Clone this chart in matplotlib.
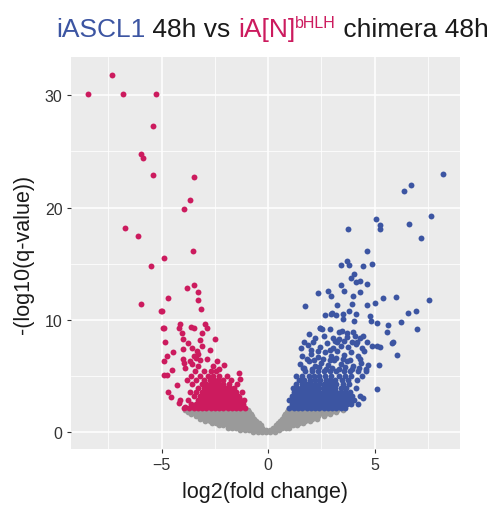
import matplotlib
matplotlib.use('Agg')
import matplotlib.pyplot as plt
import numpy as np

plt.rcParams['font.family'] = ['Liberation Sans', 'DejaVu Sans']

# --- data ---
# sparse down-regulated points (red)
red_x = [-8.44, -7.32, -6.79, -5.24, -5.38, -5.98, -5.88, -5.38, -3.49, -3.69, -3.93,
         -6.71, -6.09, -3.51, -4.88, -5.48, -3.82, -3.46, -3.27, -4.71, -3.27, -5.98,
         -3.15, -4.98, -5.05, -4.88, -4.95, -4.13, -4.16, -3.61, -3.46, -2.96, -2.85,
         -3.11, -4.05, -3.98, -3.19, -2.49, -4.82, -3.11, -3.98, -3.58, -4.45, -3.35,
         -3.27, -4.73, -3.50, -3.40, -2.85, -3.98, -3.94, -3.66, -3.55, -4.87, -2.41,
         -3.90, -3.30, -2.05, -2.29, -4.91, -4.73, -4.71, -4.55, -4.13, -4.20, -3.90,
         -1.31, -1.35, -1.39, -1.16, -4.3, -3.75, -2.6, -4.5, -3.2, -2.75]
red_y = [30.1, 31.8, 30.1, 30.1, 27.3, 24.8, 24.4, 22.9, 22.7, 20.7, 19.9,
         18.2, 17.5, 16.1, 15.5, 14.8, 12.8, 13.1, 12.5, 11.9, 11.75, 11.4,
         11.0, 10.8, 10.8, 9.3, 9.3, 9.6, 9.3, 9.4, 9.3, 9.6, 9.3,
         8.8, 8.8, 8.3, 8.2, 8.3, 8.0, 7.7, 7.4, 7.45, 7.1, 7.2,
         6.95, 6.8, 6.8, 6.6, 6.55, 6.55, 6.2, 6.3, 6.1, 6.35, 6.35,
         5.75, 5.9, 6.0, 5.6, 5.1, 5.1, 3.6, 3.1, 2.9, 2.6, 2.2,
         4.7, 5.25, 3.1, 2.35, 4.2, 7.9, 5.9, 5.5, 6.4, 7.3]

# dense down-regulated core, one list of log2FC per q-value row
red_row_y = [2.15, 2.5, 2.85, 3.2, 3.55, 3.9, 4.25, 4.6, 5.0, 5.4]
red_row_x = [
    [-3.95, -3.7, -3.5, -3.3, -3.1, -2.9, -2.7, -2.5, -2.3, -2.1, -1.9, -1.7, -1.5, -1.3, -1.1],
    [-3.6, -3.4, -3.2, -3.0, -2.8, -2.6, -2.4, -2.2, -2.0, -1.8, -1.6, -1.4, -1.2],
    [-3.75, -3.3, -3.1, -2.9, -2.7, -2.5, -2.3, -2.1, -1.9, -1.7, -1.5, -1.3, -1.15],
    [-3.5, -3.2, -3.0, -2.8, -2.6, -2.4, -2.2, -2.0, -1.8, -1.6, -1.4],
    [-3.65, -3.4, -3.1, -2.9, -2.7, -2.5, -2.3, -2.1, -1.9, -1.7, -1.5, -1.25],
    [-3.3, -3.0, -2.8, -2.6, -2.4, -2.2, -2.0, -1.8, -1.6],
    [-3.55, -3.1, -2.9, -2.7, -2.5, -2.3, -2.1, -1.85, -1.45],
    [-3.8, -3.4, -3.0, -2.75, -2.55, -2.35, -2.1, -1.75],
    [-3.6, -3.2, -2.8, -2.6, -2.3, -1.95],
    [-3.45, -3.0, -2.7, -2.45],
]

# sparse up-regulated points (blue)
blue_x = [8.18, 6.70, 6.35, 7.62, 5.07, 5.26, 5.26, 6.60, 3.74, 7.16, 4.66, 3.69,
          3.77, 3.41, 4.46, 4.88, 4.04, 3.88, 4.13, 4.29, 4.66, 3.41, 3.57, 2.33,
          2.80, 2.94, 4.00, 4.29, 5.38, 6.02, 7.55, 5.02, 4.66, 6.54, 6.92, 7.00,
          6.23, 5.60, 5.57, 5.88, 5.80, 6.04, 5.12, 5.10, 5.20, 5.10, 4.45, 1.74,
          2.68, 2.96, 2.41, 2.52, 1.66, 1.63, 1.11, 3.22, 2.99, 3.16, 3.50, 3.50,
          3.79, 3.91, 4.13, 4.04, 4.79, 4.82, 2.44, 2.88, 3.30, 3.46, 3.69, 4.00,
          4.08, 4.32, 4.19, 2.10, 3.04, 3.22, 4.63, 4.87, 5.26,
          1.5, 1.9, 2.2, 2.5, 2.8, 3.1, 3.4, 3.7, 4.0, 4.35, 4.7,
          1.6, 2.0, 2.35, 2.65, 2.95, 3.25, 3.55, 3.9, 4.2, 4.5,
          1.55, 1.85, 2.45, 2.75, 3.05, 3.4, 3.75, 4.1, 4.4,
          2.2, 2.6, 3.3, 3.7, 4.45, 1.9,
          1.7, 2.05, 2.4, 2.7, 3.0, 3.3, 3.6, 3.95, 4.25, 4.6,
          1.8, 2.15, 2.55, 2.9, 3.2, 3.5, 3.85, 4.3,
          2.0, 2.35, 2.9, 3.15, 3.55, 3.95]
blue_y = [23.0, 22.0, 21.5, 19.2, 19.0, 18.4, 18.1, 18.5, 18.1, 17.3, 16.1, 15.2,
          14.9, 14.9, 14.75, 15.0, 14.1, 13.7, 13.4, 13.45, 13.2, 13.1, 12.6, 12.4,
          12.6, 12.1, 12.1, 12.5, 11.9, 12.05, 11.75, 11.5, 11.3, 10.65, 10.8, 9.2,
          9.8, 9.5, 8.9, 8.05, 7.9, 6.86, 9.7, 7.7, 6.0, 3.8, 3.0, 11.25,
          10.4, 10.5, 9.3, 9.2, 8.0, 5.7, 2.35, 11.3, 10.6, 10.4, 10.5, 10.1,
          10.8, 11.4, 10.5, 9.9, 10.35, 9.9, 9.3, 9.2, 8.9, 9.0, 8.8, 8.9,
          8.6, 8.4, 8.0, 8.0, 8.35, 8.0, 8.0, 7.7, 7.55,
          6.1, 6.3, 5.9, 6.2, 6.0, 6.4, 6.1, 6.3, 5.9, 6.2, 6.0,
          6.8, 7.0, 6.7, 7.1, 6.8, 7.2, 6.9, 7.1, 6.8, 7.2,
          7.5, 7.8, 7.6, 7.9, 7.5, 7.7, 7.6, 7.85, 7.5,
          8.4, 8.6, 8.3, 8.5, 8.6, 8.7,
          5.75, 5.6, 5.8, 5.65, 5.75, 5.6, 5.8, 5.65, 5.75, 5.6,
          6.5, 6.45, 6.55, 6.4, 6.6, 6.5, 6.45, 6.55,
          7.3, 7.25, 7.35, 8.1, 8.15, 8.05]

# dense up-regulated core
blue_row_y = [2.15, 2.5, 2.85, 3.2, 3.55, 3.9, 4.25, 4.6, 5.0, 5.4]
blue_row_x = [
    [1.0, 1.2, 1.4, 1.6, 1.8, 2.0, 2.2, 2.4, 2.6, 2.8, 3.0, 3.2, 3.4, 3.6],
    [1.1, 1.3, 1.5, 1.7, 1.9, 2.1, 2.3, 2.5, 2.7, 2.9, 3.1, 3.3, 3.5, 3.7, 3.9, 4.2],
    [1.0, 1.2, 1.4, 1.6, 1.8, 2.0, 2.2, 2.4, 2.6, 2.8, 3.0, 3.2, 3.4, 3.6, 3.8, 4.05],
    [1.1, 1.3, 1.5, 1.7, 1.9, 2.1, 2.3, 2.5, 2.7, 2.9, 3.1, 3.3, 3.5, 3.7, 3.95, 4.3],
    [1.2, 1.4, 1.6, 1.8, 2.0, 2.2, 2.4, 2.6, 2.8, 3.0, 3.2, 3.4, 3.6, 3.85],
    [1.15, 1.35, 1.55, 1.75, 1.95, 2.15, 2.35, 2.55, 2.75, 2.95, 3.15, 3.4, 3.65, 4.1],
    [1.3, 1.6, 1.8, 2.0, 2.2, 2.4, 2.6, 2.8, 3.0, 3.2, 3.5, 3.8],
    [1.45, 1.7, 1.95, 2.2, 2.45, 2.7, 2.9, 3.15, 3.45, 3.75, 4.15],
    [1.3, 1.6, 1.9, 2.15, 2.4, 2.65, 2.95, 3.3, 3.6, 3.9, 4.4],
    [1.75, 2.05, 2.35, 2.6, 2.9, 3.2, 3.55, 3.85, 4.2, 4.6],
]

# not significant (grey), one list per q-value row
grey_row_y = [0.05, 0.2, 0.4, 0.6, 0.8, 1.0, 1.2, 1.4, 1.6, 1.8, 1.95]
grey_row_x = [
    [-0.7, -0.5, -0.3, -0.1, 0.1, 0.3],
    [-1.3, -1.1, -0.9, -0.7, -0.5, -0.3, -0.1, 0.1, 0.3, 0.5],
    [-1.9, -1.7, -1.5, -1.3, -1.1, -0.9, -0.7, -0.5, -0.3, 0.25, 0.45, 0.65, 0.85, 1.0],
    [-2.3, -2.1, -1.9, -1.7, -1.5, -1.3, -1.1, -0.9, -0.7, -0.5, -0.35,
     0.35, 0.55, 0.75, 0.95, 1.15, 1.35],
    [-2.65, -2.45, -2.25, -2.05, -1.85, -1.65, -1.45, -1.25, -1.05, -0.85, -0.65, -0.45,
     0.45, 0.65, 0.85, 1.05, 1.25, 1.45, 1.65],
    [-2.95, -2.75, -2.55, -2.35, -2.15, -1.95, -1.75, -1.55, -1.35, -1.15, -0.95, -0.75, -0.55,
     0.55, 0.75, 0.95, 1.15, 1.35, 1.55, 1.75, 1.95],
    [-3.2, -3.0, -2.8, -2.6, -2.4, -2.2, -2.0, -1.8, -1.6, -1.4, -1.2, -1.0, -0.8, -0.65,
     0.65, 0.85, 1.05, 1.25, 1.45, 1.65, 1.85, 2.05, 2.3],
    [-3.4, -3.15, -2.95, -2.75, -2.55, -2.35, -2.15, -1.95, -1.75, -1.55, -1.35, -1.15, -0.95, -0.75,
     0.75, 0.95, 1.15, 1.35, 1.55, 1.75, 1.95, 2.15, 2.35, 2.6],
    [-3.6, -3.35, -3.1, -2.9, -2.7, -2.5, -2.3, -2.1, -1.9, -1.7, -1.5, -1.3, -1.1, -0.9, -0.8,
     0.8, 1.0, 1.2, 1.4, 1.6, 1.8, 2.0, 2.2, 2.4, 2.65, 2.9],
    [-3.75, -3.5, -3.25, -3.0, -2.8, -2.6, -2.4, -2.2, -2.0, -1.8, -1.6, -1.4, -1.2, -1.0, -0.9,
     0.9, 1.1, 1.3, 1.5, 1.7, 1.9, 2.1, 2.3, 2.5, 2.7, 2.95, 3.2],
    [-3.9, -3.6, -3.3, -3.05, -2.85, -2.65, -2.45, -2.25, -2.05, -1.85, -1.65, -1.45, -1.25, -1.05, -0.95,
     0.95, 1.15, 1.35, 1.55, 1.75, 1.95, 2.15, 2.35, 2.55, 2.75, 3.0, 3.25, 3.5],
]


def rows_to_xy(row_y, row_x):
    xs, ys = [], []
    for y, row in zip(row_y, row_x):
        xs += row
        ys += [y] * len(row)
    return np.array(xs), np.array(ys)


gx, gy = rows_to_xy(grey_row_y, grey_row_x)
rx, ry = rows_to_xy(red_row_y, red_row_x)
bx, by = rows_to_xy(blue_row_y, blue_row_x)
rx = np.concatenate([rx, red_x]); ry = np.concatenate([ry, red_y])
bx = np.concatenate([bx, blue_x]); by = np.concatenate([by, blue_y])

RED = '#CC1B5E'
BLUE = '#3C55A2'
GREY = '#9A9A9A'

fig = plt.figure(figsize=(4.96, 5.06), dpi=100)
ax = fig.add_axes([71/496, 56/506, 389/496, 392/506])
ax.set_facecolor('#EBEBEB')

ax.scatter(gx, gy, s=17, color=GREY, linewidths=0, zorder=2)
ax.scatter(rx, ry, s=18, color=RED, linewidths=0, zorder=3)
ax.scatter(bx, by, s=18, color=BLUE, linewidths=0, zorder=3)

ax.set_xlim(-9.25, 9.0)
ax.set_ylim(-1.5, 33.4)
ax.set_xticks([-5, 0, 5])
ax.set_xticks([-7.5, -2.5, 2.5, 7.5], minor=True)
ax.set_yticks([0, 10, 20, 30])
ax.set_yticks([5, 15, 25], minor=True)
ax.grid(which='major', color='white', lw=1.1)
ax.grid(which='minor', color='white', lw=0.55)
ax.set_axisbelow(True)
for s in ax.spines.values():
    s.set_visible(False)
ax.tick_params(which='major', length=3, width=0.8, color='#333333',
               labelsize=11.5, labelcolor='#333333', pad=3)
ax.tick_params(which='minor', length=0)
ax.set_xlabel('log2(fold change)', fontsize=15.5, color='#1a1a1a', labelpad=6)
ax.set_ylabel('-(log10(q-value))', fontsize=15.5, color='#1a1a1a', labelpad=8)

# title with coloured parts and a superscript
pieces = [('iASCL1', BLUE, 19, 0), (' 48h vs ', '#1a1a1a', 19, 0),
          ('iA[N]', RED, 19, 0), ('bHLH', RED, 11.5, 9), (' chimera 48h', '#1a1a1a', 19, 0)]
renderer = fig.canvas.get_renderer()
xpos = 56
for txt, col, fs, rise in pieces:
    t = fig.text(xpos/496, (506 - 37 + rise)/506, txt, color=col, fontsize=fs,
                 ha='left', va='baseline')
    xpos = t.get_window_extent(renderer).x1

fig.savefig('out.png', dpi=100)
